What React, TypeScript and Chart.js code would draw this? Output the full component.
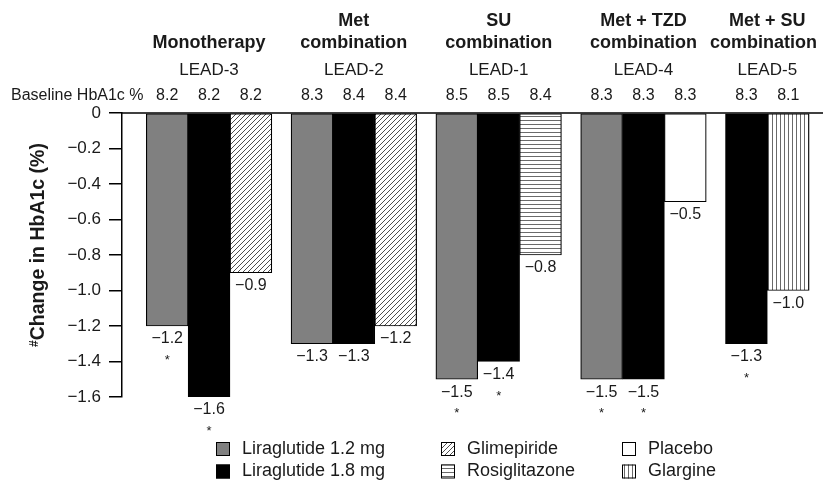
import { useEffect, useRef } from "react";
import { Chart, registerables } from "chart.js";

Chart.register(...registerables);

// ---------- data ----------
const groupTitles = [
  "Monotherapy",
  "Met\ncombination",
  "SU\ncombination",
  "Met + TZD\ncombination",
  "Met + SU\ncombination",
];
const studies = ["LEAD-3", "LEAD-2", "LEAD-1", "LEAD-4", "LEAD-5"];
const seriesNames = [
  "Liraglutide 1.2 mg",
  "Liraglutide 1.8 mg",
  "Glimepiride",
  "Rosiglitazone",
  "Placebo",
  "Glargine",
];

const lira12Change = [-1.2, -1.3, -1.5, -1.5, null];
const lira18Change = [-1.6, -1.3, -1.4, -1.5, -1.3];
const glimepirideChange = [-0.9, -1.2, null, null, null];
const rosiglitazoneChange = [null, null, -0.8, null, null];
const placeboChange = [null, null, null, -0.5, null];
const glargineChange = [null, null, null, null, -1.0];

const lira12Baseline = [8.2, 8.3, 8.5, 8.3, null];
const lira18Baseline = [8.2, 8.4, 8.5, 8.3, 8.3];
const glimepirideBaseline = [8.2, 8.4, null, null, null];
const rosiglitazoneBaseline = [null, null, 8.4, null, null];
const placeboBaseline = [null, null, null, 8.3, null];
const glargineBaseline = [null, null, null, null, 8.1];

const lira12Significant = [true, false, true, true, false];
const lira18Significant = [true, false, true, true, true];
const noSignificance = [false, false, false, false, false];

const yMin = -1.6;
const yMax = 0;
const yStep = 0.2;
const baselineLabel = "Baseline HbA1c %";
const yTitle = "Change in HbA1c (%)";
const yTitleMark = "#";

// ---------- layout constants ----------
const GROUP_STRIDE = 3.46; // in bar-width units
const FONT = "'Liberation Sans', Arial, Helvetica, sans-serif";
const TEXT = "#1a1a1a";

const seriesChange = [lira12Change, lira18Change, glimepirideChange, rosiglitazoneChange, placeboChange, glargineChange];
const seriesBaseline = [lira12Baseline, lira18Baseline, glimepirideBaseline, rosiglitazoneBaseline, placeboBaseline, glargineBaseline];
const seriesSig = [lira12Significant, lira18Significant, noSignificance, noSignificance, noSignificance, noSignificance];

const fmt = (v: number) => {
  if (Math.abs(v) < 1e-9) return "0";
  return (v < 0 ? "\u2212" : "") + Math.abs(v).toFixed(1);
};

function makePattern(kind: string): CanvasPattern | string {
  const c = document.createElement("canvas");
  const s = kind === "diag" ? 5 : 4;
  c.width = s;
  c.height = s;
  const g = c.getContext("2d");
  if (!g) return "#fff";
  g.fillStyle = "#fff";
  g.fillRect(0, 0, s, s);
  if (kind === "diag") {
    g.strokeStyle = "#3a3a3a";
    g.lineWidth = 0.9;
    g.beginPath();
    g.moveTo(0, s);
    g.lineTo(s, 0);
    g.moveTo(-1, 1);
    g.lineTo(1, -1);
    g.moveTo(s - 1, s + 1);
    g.lineTo(s + 1, s - 1);
    g.stroke();
  } else if (kind === "horiz") {
    g.fillStyle = "#6a6a6a";
    g.fillRect(0, 0, s, 1);
  } else if (kind === "vert") {
    g.fillStyle = "#6a6a6a";
    g.fillRect(0, 0, 1, s);
  }
  const p = g.createPattern(c, "repeat");
  return p || "#fff";
}

export default function App() {
  const canvasRef = useRef<HTMLCanvasElement | null>(null);

  useEffect(() => {
    const canvas = canvasRef.current;
    if (!canvas) return;

    const fills: (string | CanvasPattern)[] = [
      "#808080",
      "#000000",
      makePattern("diag"),
      makePattern("horiz"),
      "#ffffff",
      makePattern("vert"),
    ];

    // build datasets: each bar placed by group index and slot in group
    const points: any[][] = seriesNames.map(() => []);
    for (let g = 0; g < studies.length; g++) {
      let slot = 0;
      for (let s = 0; s < seriesNames.length; s++) {
        const v = seriesChange[s][g];
        if (v === null || v === undefined) continue;
        points[s].push({
          x: g * GROUP_STRIDE + slot,
          y: v,
          group: g,
          baseline: seriesBaseline[s][g],
          sig: seriesSig[s][g],
        });
        slot++;
      }
    }

    const datasets = seriesNames.map((name, s) => ({
      label: name,
      data: points[s],
      backgroundColor: fills[s],
      borderColor: "#000",
      borderWidth: 1.2,
      borderSkipped: false,
      grouped: false,
      barPercentage: 1,
      categoryPercentage: 1,
    }));

    const annotate = {
      id: "annotate",
      afterDatasetsDraw(chart: any) {
        const ctx: CanvasRenderingContext2D = chart.ctx;
        const area = chart.chartArea;
        const yScale = chart.scales.y;
        ctx.save();
        // zero line
        ctx.strokeStyle = "#000";
        ctx.lineWidth = 1.5;
        ctx.beginPath();
        const y0 = yScale.getPixelForValue(0);
        ctx.moveTo(area.left, y0);
        ctx.lineTo(chart.width, y0);
        ctx.stroke();

        // group extents
        const ext = studies.map(() => ({ l: Infinity, r: -Infinity }));
        chart.data.datasets.forEach((ds: any, di: number) => {
          const meta = chart.getDatasetMeta(di);
          meta.data.forEach((el: any, i: number) => {
            const p = ds.data[i];
            const half = el.width / 2;
            ext[p.group].l = Math.min(ext[p.group].l, el.x - half);
            ext[p.group].r = Math.max(ext[p.group].r, el.x + half);
          });
        });

        ctx.fillStyle = TEXT;
        ctx.textBaseline = "middle";

        // group titles
        ctx.font = `bold 18px ${FONT}`;
        ctx.textAlign = "center";
        groupTitles.forEach((t, g) => {
          const lines = t.split("\n");
          const cx = (ext[g].l + ext[g].r) / 2;
          lines.forEach((line, li) => {
            const y = 43 - (lines.length - 1 - li) * 22;
            const w = ctx.measureText(line).width;
            const x = Math.min(cx, chart.width - 6 - w / 2);
            ctx.fillText(line, x, y);
          });
        });

        // study labels
        ctx.font = `17px ${FONT}`;
        studies.forEach((t, g) => {
          ctx.fillText(t, (ext[g].l + ext[g].r) / 2, 70);
        });

        // baseline row
        ctx.font = `16px ${FONT}`;
        ctx.textAlign = "left";
        ctx.fillText(baselineLabel, 11, 96);
        ctx.textAlign = "center";
        chart.data.datasets.forEach((ds: any, di: number) => {
          const meta = chart.getDatasetMeta(di);
          meta.data.forEach((el: any, i: number) => {
            const p = ds.data[i];
            ctx.font = `16px ${FONT}`;
            ctx.fillText(p.baseline.toFixed(1), el.x, 96);
            // value labels
            const bottom = Math.max(el.y, el.base);
            ctx.fillText(fmt(p.y), el.x, bottom + 13);
            if (p.sig) {
              ctx.font = `13px ${FONT}`;
              ctx.textBaseline = "alphabetic";
              ctx.fillText("*", el.x, bottom + 13 + 25);
              ctx.textBaseline = "middle";
            }
          });
        });

        // y title
        ctx.save();
        ctx.translate(39, 245);
        ctx.rotate(-Math.PI / 2);
        ctx.font = `bold 19.5px ${FONT}`;
        const mainW = ctx.measureText(yTitle).width;
        ctx.font = `bold 12px ${FONT}`;
        const markW = ctx.measureText(yTitleMark).width;
        const total = mainW + markW;
        ctx.textAlign = "left";
        ctx.fillText(yTitleMark, -total / 2, -4);
        ctx.font = `bold 19.5px ${FONT}`;
        ctx.fillText(yTitle, -total / 2 + markW, 0);
        ctx.restore();

        // legend
        const colX = [216, 441, 622];
        const rowY = [449, 471.5];
        ctx.font = `18px ${FONT}`;
        ctx.textAlign = "left";
        seriesNames.forEach((name, s) => {
          const col = Math.floor(s / 2);
          const row = s % 2;
          const bx = colX[col];
          const by = rowY[row] - 7;
          ctx.fillStyle = fills[s] as any;
          ctx.fillRect(bx, by, 14, 14);
          ctx.strokeStyle = "#000";
          ctx.lineWidth = 1;
          ctx.strokeRect(bx + 0.5, by + 0.5, 13, 13);
          ctx.fillStyle = TEXT;
          ctx.fillText(name, bx + 26, rowY[row]);
        });
        ctx.restore();
      },
    };

    const chart = new Chart(canvas, {
      type: "bar",
      data: { datasets: datasets as any },
      options: {
        animation: false,
        responsive: true,
        maintainAspectRatio: false,
        layout: { padding: { top: 113, bottom: 85, left: 0, right: 0 } },
        plugins: { legend: { display: false }, tooltip: { enabled: false } },
        scales: {
          x: {
            type: "linear",
            display: false,
            min: -1.08,
            max: 15.67,
            afterBuildTicks: (axis: any) => {
              axis.ticks = [];
            },
          },
          y: {
            min: yMin,
            max: yMax,
            ticks: {
              stepSize: yStep,
              callback: (v: any) => fmt(Number(v)),
              font: { size: 17, family: FONT },
              color: TEXT,
              padding: 8,
            },
            grid: {
              drawOnChartArea: false,
              drawTicks: true,
              tickLength: 13,
              color: "#000",
              lineWidth: 1.5,
            },
            border: { display: true, color: "#000", width: 1.5 },
            afterFit: (scale: any) => {
              scale.width = 122;
            },
          },
        },
      } as any,
      plugins: [annotate],
    });

    return () => chart.destroy();
  }, []);

  return (
    <div style={{ position: "fixed", left: 0, top: 0, width: 823, height: 482, background: "#fff" }}>
      <canvas ref={canvasRef} />
    </div>
  );
}
